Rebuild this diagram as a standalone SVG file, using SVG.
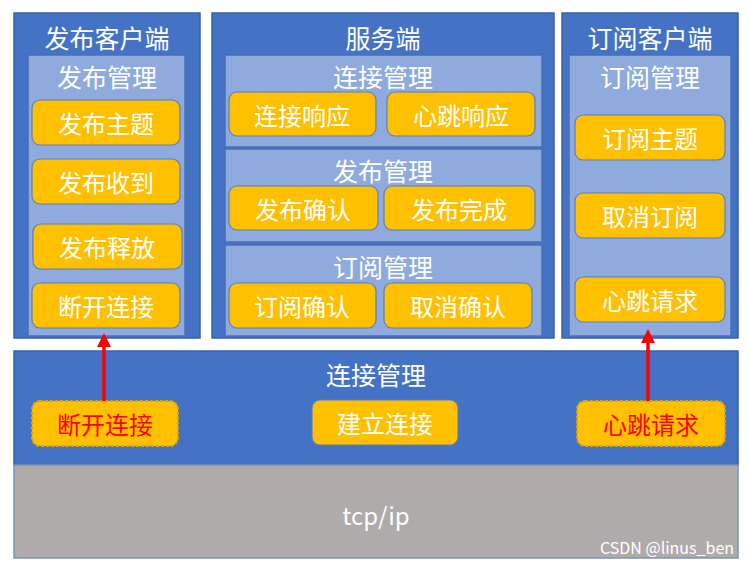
<svg xmlns="http://www.w3.org/2000/svg" width="748" height="569" viewBox="0 0 748 569">
<defs>
<style>
.panel{fill:#4472c4;stroke:#3a62a8;stroke-width:1.5}
.inner{fill:#8faadc;stroke:#4a6fb5;stroke-width:1.5}
.btn{fill:#ffc000;stroke:#5a7fc0;stroke-width:1.2}
.dbtn{fill:#ffc000;stroke:#d9a600;stroke-width:2;stroke-dasharray:3 2}
text{font-family:"Noto Sans CJK SC","Noto Sans",sans-serif;text-anchor:middle;dominant-baseline:central;fill:#fff}
.t{font-size:25px}
.b{font-size:24px}
.r{fill:#ff0000}
.arrow{stroke:#ff0000;stroke-width:3.5;fill:none}
</style>
<marker id="ah" markerWidth="4" markerHeight="4" refX="2" refY="2" orient="auto" markerUnits="strokeWidth"><path d="M0,0L4,2L0,4z" fill="#ff0000"/></marker>
</defs>
<rect width="748" height="569" fill="#fff"/>
<g id="pub-client">
<rect class="panel" x="14" y="13" width="186" height="325"/>
<text class="t" x="107" y="37">发布客户端</text>
<rect class="inner" x="28" y="55" width="157" height="281"/>
<text class="t" x="107" y="76">发布管理</text>
<rect class="btn" x="32" y="100" width="148" height="45" rx="8"/><text class="b" x="106" y="122">发布主题</text>
<rect class="btn" x="32" y="159" width="148" height="45" rx="8"/><text class="b" x="106" y="181">发布收到</text>
<rect class="btn" x="33" y="224" width="149" height="45" rx="8"/><text class="b" x="107" y="246">发布释放</text>
<rect class="btn" x="32" y="283" width="148" height="45" rx="8"/><text class="b" x="106" y="305">断开连接</text>
</g>
<g id="server">
<rect class="panel" x="212" y="13" width="342" height="325"/>
<text class="t" x="383" y="37">服务端</text>
<rect class="inner" x="225" y="55" width="317" height="92"/>
<text class="t" x="383" y="76">连接管理</text>
<rect class="btn" x="229" y="92" width="147" height="44" rx="8"/><text class="b" x="302" y="114">连接响应</text>
<rect class="btn" x="387" y="92" width="148" height="44" rx="8"/><text class="b" x="461" y="114">心跳响应</text>
<rect class="inner" x="225" y="149" width="317" height="93"/>
<text class="t" x="383" y="170">发布管理</text>
<rect class="btn" x="229" y="186" width="149" height="44" rx="8"/><text class="b" x="303" y="208">发布确认</text>
<rect class="btn" x="384" y="186" width="151" height="44" rx="8"/><text class="b" x="459" y="208">发布完成</text>
<rect class="inner" x="225" y="245" width="317" height="91"/>
<text class="t" x="383" y="266">订阅管理</text>
<rect class="btn" x="229" y="283" width="147" height="45" rx="8"/><text class="b" x="302" y="305">订阅确认</text>
<rect class="btn" x="384" y="283" width="148" height="45" rx="8"/><text class="b" x="458" y="305">取消确认</text>
</g>
<g id="sub-client">
<rect class="panel" x="562" y="13" width="176" height="325"/>
<text class="t" x="650" y="37">订阅客户端</text>
<rect class="inner" x="569" y="55" width="162" height="281"/>
<text class="t" x="650" y="76">订阅管理</text>
<rect class="btn" x="575" y="115" width="150" height="45" rx="8"/><text class="b" x="650" y="137">订阅主题</text>
<rect class="btn" x="575" y="193" width="150" height="45" rx="8"/><text class="b" x="650" y="215">取消订阅</text>
<rect class="btn" x="575" y="277" width="150" height="45" rx="8"/><text class="b" x="650" y="299">心跳请求</text>
</g>
<g id="conn-layer">
<rect class="panel" x="14" y="351" width="724" height="114"/>
<text class="t" x="376" y="374">连接管理</text>
<rect class="dbtn" x="32" y="401" width="146" height="45" rx="8"/><text class="b r" x="105" y="423">断开连接</text>
<rect class="btn" x="312" y="400" width="146" height="45" rx="8"/><text class="b" x="385" y="422">建立连接</text>
<rect class="dbtn" x="577" y="401" width="148" height="45" rx="8"/><text class="b r" x="651" y="423">心跳请求</text>
</g>
<g id="tcpip">
<rect x="14" y="465" width="724" height="93" fill="#afabab" stroke="#7f93b8" stroke-width="1.5"/>
<text x="376" y="514" style="font-size:24px">tcp/ip</text>
<text x="734" y="547" style="font-size:16px;text-anchor:end;fill:#fff">CSDN @linus_ben</text>
</g>
<g id="connectors">
<line class="arrow" x1="104" y1="401" x2="104" y2="340" marker-end="url(#ah)"/>
<line class="arrow" x1="648" y1="401" x2="648" y2="336" marker-end="url(#ah)"/>
</g>
</svg>
